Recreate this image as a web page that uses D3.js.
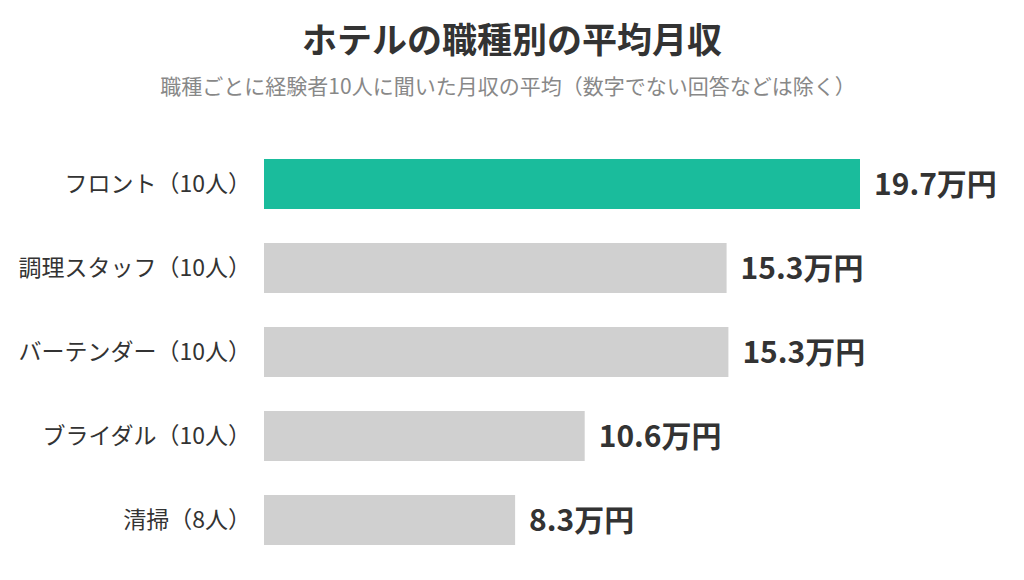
<!DOCTYPE html>
<html><head><meta charset="utf-8">
<script src="https://cdn.jsdelivr.net/npm/d3@7"></script>
<style>html,body{margin:0;padding:0;background:#fff;}svg{display:block;}</style>
</head><body>
<svg id="c" width="1024" height="580"></svg>
<script>
const categories = ["フロント（10人）","調理スタッフ（10人）","バーテンダー（10人）","ブライダル（10人）","清掃（8人）"];
const values = [19.7, 15.29, 15.35, 10.6, 8.3];
const valueLabels = ["19.7万円","15.3万円","15.3万円","10.6万円","8.3万円"];
const highlight = [true,false,false,false,false];
const title = "ホテルの職種別の平均月収";
const subtitle = "職種ごとに経験者10人に聞いた月収の平均（数字でない回答などは除く）";

const svg = d3.select("#c");
const font = "'Noto Sans CJK JP','Noto Sans',sans-serif";
const x = d3.scaleLinear().domain([0, 19.7]).range([264, 860]);
const y = d3.scaleBand().domain(categories).range([159, 545]).paddingInner(34/84).paddingOuter(0);

svg.append("text").attr("x",512).attr("y",53).attr("text-anchor","middle")
  .attr("font-family",font).attr("font-size",35).attr("font-weight",700).attr("fill","#333").text(title);
svg.append("text").attr("x",508).attr("y",94).attr("text-anchor","middle")
  .attr("font-family",font).attr("font-size",21).attr("fill","#888").text(subtitle);

const g = svg.append("g");
g.selectAll("rect").data(categories).join("rect")
  .attr("x", x(0)).attr("y", d=>y(d)).attr("height", y.bandwidth())
  .attr("width", (d,i)=>x(values[i])-x(0))
  .attr("fill", (d,i)=>highlight[i] ? "#1abc9c" : "#d0d0d0");

g.selectAll("text.cat").data(categories).join("text").attr("class","cat")
  .attr("x", 251).attr("y", d=>y(d)+y.bandwidth()/2).attr("dy","0.35em")
  .attr("text-anchor","end").attr("font-family",font).attr("font-size",23).attr("fill","#333")
  .text(d=>d);

g.selectAll("text.val").data(categories).join("text").attr("class","val")
  .attr("x", (d,i)=>x(values[i])+14).attr("y", d=>y(d)+y.bandwidth()/2).attr("dy","0.36em")
  .attr("font-family",font).attr("font-size",30).attr("font-weight",700).attr("fill","#333")
  .text((d,i)=>valueLabels[i]);
</script>
</body></html>
